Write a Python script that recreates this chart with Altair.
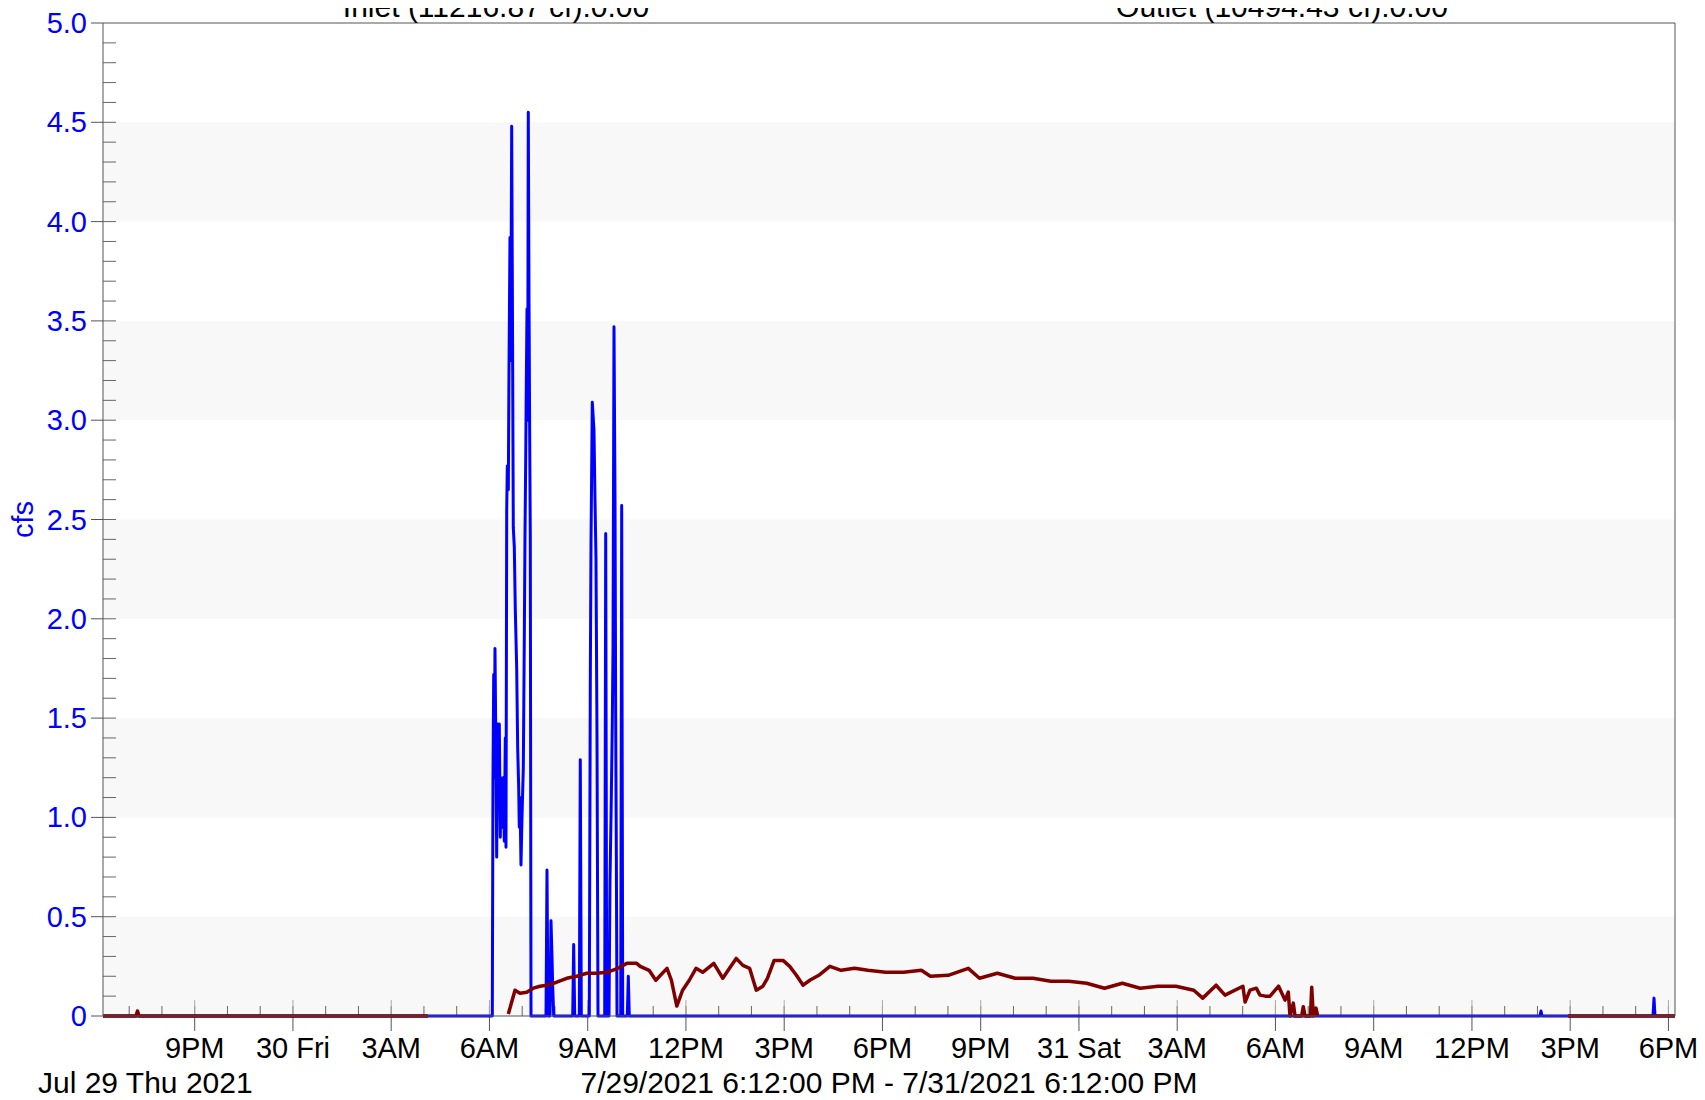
import altair as alt
import pandas as pd

# ---------------- data (x = hours elapsed since 7/29/2021 6:12:00 PM) ----------------
inlet_hours = [
    0.0, 11.817, 11.887, 11.908, 11.930, 11.948, 11.969, 12.000, 12.021, 12.052,
    12.082, 12.101, 12.131, 12.153, 12.183, 12.223, 12.253, 12.284, 12.305, 12.327,
    12.345, 12.376, 12.397, 12.427, 12.449, 12.479, 12.498, 12.528, 12.559, 12.589,
    12.632, 12.662, 12.693, 12.711, 12.733, 12.763, 12.794, 12.834, 12.864, 12.885,
    12.907, 12.925, 12.947, 12.968, 12.986, 13.008, 13.029, 13.047, 13.069, 13.527,
    13.557, 13.588, 13.649, 13.679, 13.710, 13.731, 13.762, 14.342, 14.372, 14.403,
    14.544, 14.574, 14.605, 14.849, 14.879, 14.901, 14.940, 14.992, 15.023, 15.053,
    15.084, 15.115, 15.319, 15.350, 15.380, 15.450, 15.481, 15.521, 15.551, 15.573,
    15.603, 15.634, 15.655, 15.673, 15.695, 15.808, 15.838, 15.869, 16.009, 16.040,
    16.070, 43.878, 43.908, 43.939, 47.328, 47.359, 47.389, 48.0,
]
inlet_cfs = [
    0, 0, 0, 1.20, 1.72, 1.20, 1.85, 1.30, 0.80, 1.47,
    1.05, 1.47, 0.90, 1.20, 0.95, 1.20, 0.88, 1.40, 0.85, 2.54,
    2.77, 2.65, 3.26, 3.92, 3.30, 4.48, 3.72, 2.46, 2.36, 2.05,
    1.75, 1.35, 1.15, 0.95, 1.10, 0.76, 1.00, 1.25, 1.90, 2.41,
    2.80, 3.18, 3.56, 3.00, 4.55, 3.60, 2.91, 2.41, 0, 0,
    0.735, 0, 0, 0.48, 0.30, 0.15, 0, 0, 0.36, 0,
    0, 1.29, 0, 0, 1.66, 2.38, 3.09, 2.95, 2.60, 2.30,
    1.40, 0, 0, 2.43, 0, 0, 0.68, 1.10, 1.47, 1.86,
    3.47, 2.60, 1.50, 0.85, 0, 0, 2.57, 0, 0, 0.20,
    0, 0, 0.025, 0, 0, 0.09, 0, 0,
]

outlet_a_hours = [0.0, 1.008, 1.053, 1.099, 9.924]
outlet_a_cfs = [0, 0, 0.025, 0, 0]

outlet_b_hours = [
    12.376, 12.479, 12.580, 12.733, 12.937, 13.139, 13.344, 13.548, 13.853, 14.159,
    14.464, 14.769, 15.075, 15.380, 15.722, 15.994, 16.296, 16.403, 16.675, 16.879,
    17.221, 17.356, 17.521, 17.698, 17.902, 18.107, 18.311, 18.650, 18.925, 19.130,
    19.334, 19.539, 19.744, 19.948, 20.150, 20.287, 20.492, 20.763, 20.968, 21.173,
    21.377, 21.582, 21.856, 22.195, 22.537, 22.947, 23.356, 23.899, 24.446, 24.989,
    25.264, 25.808, 26.421, 26.763, 27.307, 27.853, 28.397, 28.943, 29.490, 30.034,
    30.580, 31.124, 31.670, 32.214, 32.760, 33.307, 33.579, 33.988, 34.260, 34.806,
    34.873, 35.023, 35.215, 35.328, 35.487, 35.634, 35.896, 36.092, 36.192, 36.244,
    36.345, 36.397, 36.601, 36.650, 36.702, 36.870, 36.907, 36.956, 37.038, 37.090,
]
outlet_b_cfs = [
    0.01, 0.07, 0.13, 0.115, 0.12, 0.14, 0.15, 0.155, 0.17, 0.19,
    0.20, 0.215, 0.215, 0.22, 0.24, 0.265, 0.265, 0.25, 0.23, 0.18,
    0.24, 0.18, 0.05, 0.13, 0.18, 0.24, 0.22, 0.265, 0.19, 0.24,
    0.29, 0.255, 0.24, 0.13, 0.15, 0.19, 0.28, 0.28, 0.25, 0.205,
    0.155, 0.18, 0.205, 0.25, 0.23, 0.24, 0.23, 0.22, 0.22, 0.23,
    0.20, 0.205, 0.24, 0.19, 0.215, 0.19, 0.19, 0.175, 0.175, 0.165,
    0.14, 0.165, 0.14, 0.15, 0.15, 0.13, 0.09, 0.155, 0.105, 0.15,
    0.07, 0.13, 0.14, 0.105, 0.10, 0.10, 0.15, 0.08, 0.12, 0,
    0.065, 0, 0, 0.047, 0, 0, 0.145, 0, 0.04, 0,
]

outlet_c_hours = [44.733, 48.0]
outlet_c_cfs = [0, 0]

series_titles = ["Inlet (11216.87 cf):0.00", "Outlet (10494.43 cf):0.00"]
x_tick_labels = ["9PM", "30 Fri", "3AM", "6AM", "9AM", "12PM", "3PM", "6PM",
                 "9PM", "31 Sat", "3AM", "6AM", "9AM", "12PM", "3PM", "6PM"]
y_tick_labels = ["0", "0.5", "1.0", "1.5", "2.0", "2.5", "3.0", "3.5", "4.0", "4.5", "5.0"]
band_lo = [0, 1, 2, 3, 4]
band_hi = [0.5, 1.5, 2.5, 3.5, 4.5]
start_date_label = "Jul 29 Thu 2021"
range_label = "7/29/2021 6:12:00 PM - 7/31/2021 6:12:00 PM"
y_title = "cfs"

# ---------------- layout ----------------
W, H = 1572, 993
FONT = "Liberation Sans"
BLUE = "#0000ff"
MAROON = "#800000"
FRAME = "#555555"
TICK_FS = 29
TEXT_FS = 30

x_tick_values = [round(2.8 + 3 * i, 1) for i in range(len(x_tick_labels))]
x_minor_values = [round(0.8 + i, 1) for i in range(48)]
y_tick_values = [round(0.5 * i, 1) for i in range(len(y_tick_labels))]
y_minor_values = [round(0.1 * i, 1) for i in range(1, 50)]

x_scale = alt.Scale(domain=[0, 48], nice=False, zero=False)
y_scale = alt.Scale(domain=[0, 5], nice=False, zero=True)


def X(field):
    return alt.X(field, scale=x_scale, axis=None)


def Y(field):
    return alt.Y(field, scale=y_scale, axis=None)


inlet_df = pd.DataFrame({"h": inlet_hours, "cfs": inlet_cfs})
outlet_df = pd.concat([
    pd.DataFrame({"h": outlet_a_hours, "cfs": outlet_a_cfs, "seg": "a"}),
    pd.DataFrame({"h": outlet_b_hours, "cfs": outlet_b_cfs, "seg": "b"}),
    pd.DataFrame({"h": outlet_c_hours, "cfs": outlet_c_cfs, "seg": "c"}),
], ignore_index=True)
x_ticks_df = pd.DataFrame({"h": x_tick_values, "lab": x_tick_labels})
y_ticks_df = pd.DataFrame({"v": y_tick_values, "lab": y_tick_labels})

bands = alt.Chart(pd.DataFrame({"lo": band_lo, "hi": band_hi})).mark_rect(
    color="#f8f8f8"
).encode(y=Y("lo:Q"), y2="hi:Q", x=alt.value(0), x2=alt.value(W))

# inside ticks
y_minor = alt.Chart(pd.DataFrame({"v": y_minor_values})).mark_rule(
    color="#666666", strokeWidth=1
).encode(y=Y("v:Q"), x=alt.value(0), x2=alt.value(13))

x_minor = alt.Chart(pd.DataFrame({"h": x_minor_values})).mark_rule(
    color="#666666", strokeWidth=1
).encode(x=X("h:Q"), y=alt.value(H - 10), y2=alt.value(H))

x_major_in = alt.Chart(x_ticks_df).mark_rule(
    color="#aaaaaa", strokeWidth=1
).encode(x=X("h:Q"), y=alt.value(H - 16), y2=alt.value(H))

# outside ticks and tick labels
x_major_out = alt.Chart(x_ticks_df).mark_rule(
    color=FRAME, strokeWidth=1
).encode(x=X("h:Q"), y=alt.value(H), y2=alt.value(H + 15))

x_labels = alt.Chart(x_ticks_df).mark_text(
    fontSize=TICK_FS, font=FONT, color="black", align="center", baseline="alphabetic"
).encode(x=X("h:Q"), y=alt.value(H + 42), text="lab:N")

y_major_out = alt.Chart(y_ticks_df).mark_rule(
    color=FRAME, strokeWidth=1
).encode(y=Y("v:Q"), x=alt.value(-12), x2=alt.value(0))

y_labels = alt.Chart(y_ticks_df).mark_text(
    fontSize=TICK_FS, font=FONT, color=BLUE, align="right", baseline="middle", dy=1
).encode(y=Y("v:Q"), x=alt.value(-16), text="lab:N")

inlet = alt.Chart(inlet_df).mark_line(
    color=BLUE, strokeWidth=3, strokeJoin="round"
).encode(x=X("h:Q"), y=Y("cfs:Q"))

outlet = alt.Chart(outlet_df).mark_line(
    color=MAROON, strokeWidth=3.5, strokeJoin="round"
).encode(x=X("h:Q"), y=Y("cfs:Q"), detail="seg:N")

frame = alt.Chart(pd.DataFrame({"f": [0]})).mark_rect(
    filled=False, color=FRAME, strokeWidth=1
).encode(x=alt.value(0), x2=alt.value(W), y=alt.value(0), y2=alt.value(H))

titles = alt.Chart(pd.DataFrame({"t": series_titles, "pos": [W / 4, 3 * W / 4]})).mark_text(
    fontSize=TEXT_FS, font=FONT, color="black", align="center", baseline="alphabetic"
).encode(text="t:N", x=alt.X("pos:Q", scale=None, axis=None), y=alt.value(-6))

range_text = alt.Chart(pd.DataFrame({"t": [range_label]})).mark_text(
    fontSize=TEXT_FS, font=FONT, color="black", align="center", baseline="alphabetic"
).encode(text="t:N", x=alt.value(W / 2), y=alt.value(1070))

date_text = alt.Chart(pd.DataFrame({"t": [start_date_label]})).mark_text(
    fontSize=TEXT_FS, font=FONT, color="black", align="left", baseline="alphabetic"
).encode(text="t:N", x=alt.value(-65), y=alt.value(1070))

ytitle = alt.Chart(pd.DataFrame({"t": [y_title]})).mark_text(
    fontSize=TICK_FS, font=FONT, color=BLUE, align="center", baseline="middle", angle=270
).encode(text="t:N", x=alt.value(-79), y=alt.value(H / 2))

chart = alt.layer(
    bands, y_minor, x_minor, x_major_in, x_major_out, y_major_out,
    inlet, outlet, frame, x_labels, y_labels,
    titles, range_text, date_text, ytitle
).properties(
    width=W, height=H,
    padding={"left": 95, "top": 15, "right": 22, "bottom": 86},
    autosize=alt.AutoSizeParams(type="none"),
).configure(
    font=FONT,
    view=alt.ViewConfig(stroke="transparent", strokeWidth=0),
)

chart.save("out.html", embed_options={"renderer": "svg", "actions": False})
